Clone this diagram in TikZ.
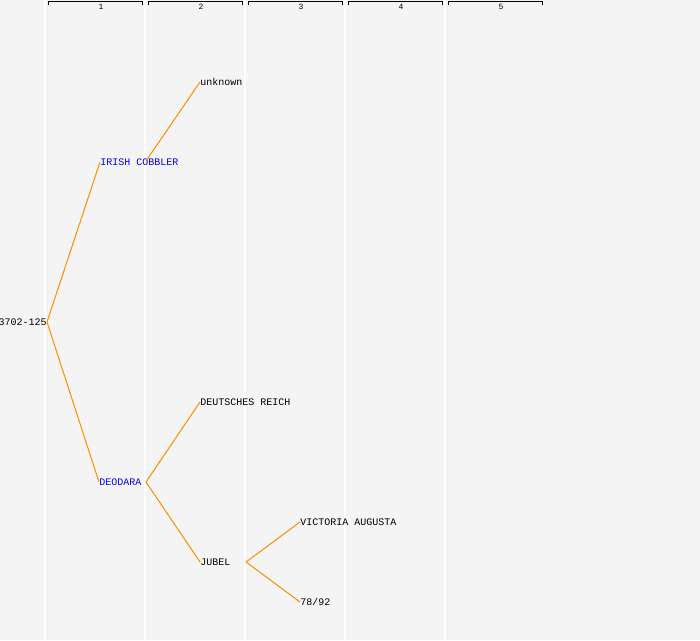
\documentclass[tikz,border=0pt]{standalone}
\usepackage{fontspec}
\setmonofont{Liberation Mono}
\definecolor{bgc}{HTML}{F4F4F4}
\definecolor{edgec}{HTML}{FF8C00}
\begin{document}
\begin{tikzpicture}[x=0.75pt,y=-0.75pt,
  lbl/.style={font=\ttfamily\fontsize{7.5pt}{8pt}\selectfont,inner sep=0pt,anchor=west,text=black},
  sel/.style={lbl,text=blue},
  colnum/.style={font=\ttfamily\fontsize{6pt}{7pt}\selectfont,inner sep=0pt,text=black},
  edge/.style={draw=edgec,line width=0.75pt},
  sep/.style={draw=white,line width=0.9pt},
  brk/.style={draw=black,line width=0.75pt}]
\fill[bgc] (0,0) rectangle (700,640);
\useasboundingbox (0,0) rectangle (700,640);
% column separators
\foreach \x in {45,145,245,345,445} \draw[sep] (\x,0) -- (\x,640);
% column headers
\foreach \i/\x in {1/48,2/148,3/248,4/348,5/448} {
  \draw[brk] (\x,4.5) -- (\x,1.5) -- (\x+94,1.5) -- (\x+94,4.5);
  \node[colnum] (c\i) at (\x+53,7) {\i};
}
% nodes
\node[lbl,anchor=east] (root) at (47,322) {3702-125};
\node[sel] (ic) at (100,162) {IRISH COBBLER};
\node[sel] (deo) at (99,482) {DEODARA};
\node[lbl] (unk) at (200,82) {unknown};
\node[lbl] (dr) at (200,402) {DEUTSCHES REICH};
\node[lbl] (jub) at (200,562) {JUBEL};
\node[lbl] (va) at (300,522) {VICTORIA AUGUSTA};
\node[lbl] (n78) at (300,602) {78/92};
% branch points
\coordinate (icb) at (146,161);
\coordinate (deob) at (146,482);
\coordinate (jubb) at (246,562);
% connectors
\draw[edge] (root.east) -- (ic.west);
\draw[edge] (root.east) -- (deo.west);
\draw[edge] (icb) -- (unk.west);
\draw[edge] (deob) -- (dr.west);
\draw[edge] (deob) -- (jub.west);
\draw[edge] (jubb) -- (va.west);
\draw[edge] (jubb) -- (n78.west);
\end{tikzpicture}
\end{document}
